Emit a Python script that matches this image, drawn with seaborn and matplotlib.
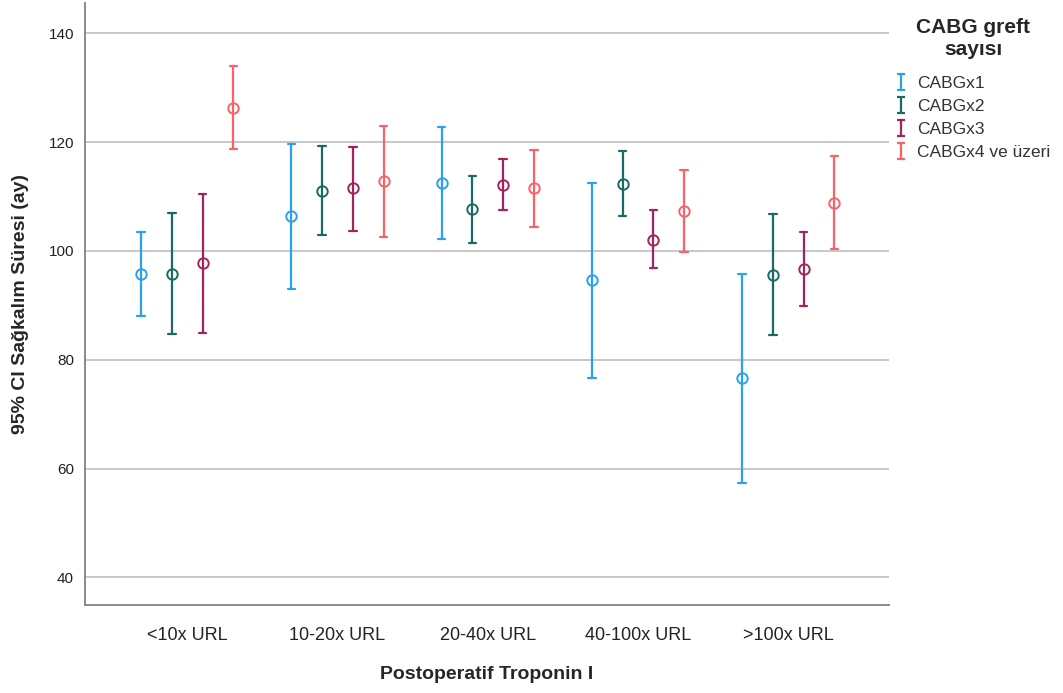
import numpy as np
import pandas as pd
import matplotlib
matplotlib.use("Agg")
import matplotlib.pyplot as plt
import seaborn as sns
from matplotlib.lines import Line2D
from matplotlib.path import Path

categories = ["<10x URL", "10-20x URL", "20-40x URL", "40-100x URL", ">100x URL"]
groups = ["CABGx1", "CABGx2", "CABGx3", "CABGx4 ve üzeri"]

mean_x1 = [95.7, 106.4, 112.5, 94.6, 76.6]
low_x1 = [88.0, 93.1, 102.2, 76.6, 57.4]
high_x1 = [103.4, 119.7, 122.8, 112.5, 95.8]

mean_x2 = [95.8, 111.1, 107.7, 112.4, 95.6]
low_x2 = [84.7, 103.0, 101.4, 106.5, 84.6]
high_x2 = [106.9, 119.3, 113.8, 118.4, 106.8]

mean_x3 = [97.7, 111.5, 112.2, 102.1, 96.6]
low_x3 = [84.9, 103.7, 107.5, 96.8, 89.8]
high_x3 = [110.4, 119.1, 117.0, 107.5, 103.4]

mean_x4 = [126.3, 112.8, 111.5, 107.3, 108.8]
low_x4 = [118.7, 102.6, 104.5, 99.8, 100.3]
high_x4 = [134.0, 123.0, 118.6, 114.8, 117.4]

colors = ["#2aa0ee", "#1a6a64", "#a3245c", "#fc6068"]

series = {
    groups[0]: (mean_x1, low_x1, high_x1),
    groups[1]: (mean_x2, low_x2, high_x2),
    groups[2]: (mean_x3, low_x3, high_x3),
    groups[3]: (mean_x4, low_x4, high_x4),
}

rows = []
for g, (m, lo, hi) in series.items():
    for c, mm, l, h in zip(categories, m, lo, hi):
        for v in (l, mm, h):
            rows.append({"cat": c, "grp": g, "val": v})
df = pd.DataFrame(rows)

sns.set_theme(style="white")
plt.rcParams["font.family"] = ["Liberation Sans", "DejaVu Sans"]

fig = plt.figure(figsize=(10.63, 6.93), dpi=100)
ax = fig.add_axes([85 / 1063, 1 - 605 / 693, (889 - 85) / 1063, 602 / 693])

sns.pointplot(data=df, x="cat", y="val", hue="grp", order=categories,
              hue_order=groups, palette=colors, estimator="median",
              errorbar=("pi", 100), dodge=0.614, linestyle="none",
              markers="o", markersize=7.5, markeredgewidth=1.4,
              err_kws={"linewidth": 1.6}, capsize=0.05, ax=ax, legend=False)

for ln in ax.lines:
    ln.set_markerfacecolor("none")

ax.set_ylim(34.9, 145.6)
ax.set_xlim(-0.68, 4.67)
ax.set_yticks([40, 60, 80, 100, 120, 140])
ax.yaxis.grid(True, color="#c8c8c8", linewidth=1.4)
ax.xaxis.grid(False)
ax.set_axisbelow(True)
for s in ["top", "right"]:
    ax.spines[s].set_visible(False)
for s in ["left", "bottom"]:
    ax.spines[s].set_color("#8a8a8a")
    ax.spines[s].set_linewidth(1.4)
ax.tick_params(axis="both", length=0)
ax.tick_params(axis="y", labelsize=11, pad=8, colors="#222222")
ax.tick_params(axis="x", labelsize=13, pad=16, colors="#222222")
ax.set_xlabel("Postoperatif Troponin I", fontsize=14, fontweight="bold", labelpad=16)
ax.set_ylabel("95% CI Sağkalım Süresi (ay)", fontsize=14, fontweight="bold", labelpad=14)

ibar = Path([(-0.5, -1), (0.5, -1), (0, -1), (0, 1), (-0.5, 1), (0.5, 1)],
            [Path.MOVETO, Path.LINETO, Path.MOVETO, Path.LINETO, Path.MOVETO, Path.LINETO])
handles = [Line2D([], [], linestyle="none", marker=ibar, markersize=11,
                  markeredgewidth=1.6, color=c, markerfacecolor="none") for c in colors]
leg = fig.legend(handles, groups, loc="upper left", bbox_to_anchor=(884 / 1063, 1 - 6 / 693),
                 frameon=False, fontsize=12.5, title="CABG greft\nsayısı",
                 handlelength=0.6, handletextpad=0.6, labelspacing=0.46,
                 borderpad=0.2, alignment="center")
leg.get_title().set_fontweight("bold")
leg.get_title().set_fontsize(15)
leg.get_title().set_multialignment("center")
leg._legend_box.sep = 12
for t in leg.get_texts():
    t.set_color("#333333")

fig.savefig("out.png", dpi=100)
